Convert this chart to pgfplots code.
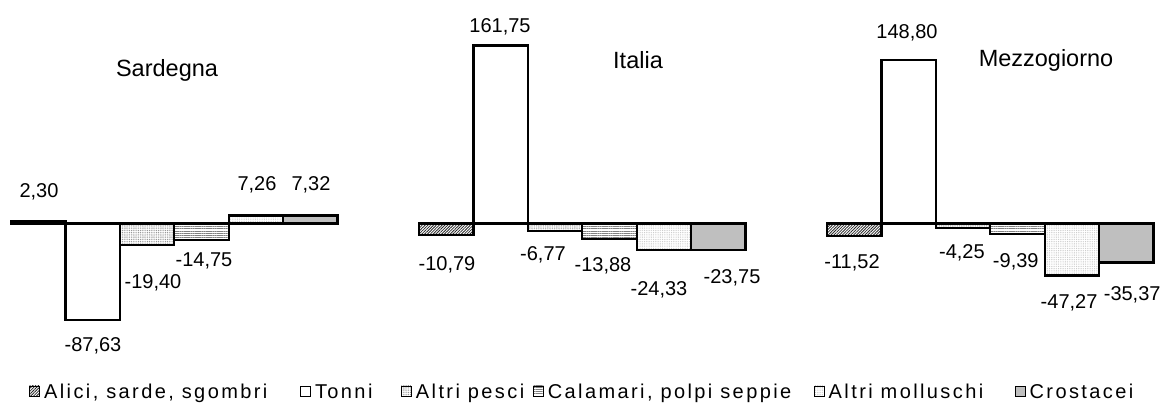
\documentclass[border=0pt]{standalone}
\usepackage{pgfplots}
\pgfplotsset{compat=1.18}
\usetikzlibrary{patterns.meta}
\usepackage{fontspec}
\setmainfont{Liberation Sans}
\newfontfamily\legfont[LetterSpace=12]{Liberation Sans}
\newcommand\lf[2]{\makebox[#1][l]{\legfont\fontsize{20}{22}\selectfont #2}}

\begin{document}
\begin{tikzpicture}
\path[use as bounding box] (0,0) rectangle (1165pt,407pt);
\begin{axis}[
    at={(11pt,51.5pt)}, anchor=south west,
    x=54.4pt, y=1.1pt,
    xmin=0, xmax=21, ymin=-120, ymax=190,
    hide axis, clip=false,
    legend image code/.code={\draw[#1,line width=0.9pt] (0pt,-4pt) rectangle (10pt,6pt);},
    legend columns=6,
    legend style={draw=none, fill=none, at={(0.0158,-0.107)}, anchor=west,
        inner xsep=0pt, inner ysep=0pt,
        nodes={inner sep=0pt},
        /tikz/every even column/.append style={column sep=0pt},
        /tikz/every odd column/.append style={column sep=4pt}},
    bb/.style={ybar, bar width=1, bar shift=0, draw=black, line width=2.2pt},
]
% Alici, sarde, sgombri
\addplot[bb, pattern={Lines[angle=45,distance=2pt,line width=0.8pt]}, pattern color=black!85]
    coordinates {(0.5,2.30) (8,-10.79) (15.5,-11.52)};
% Tonni
\addplot[bb, fill=white]
    coordinates {(1.5,-87.63) (9,161.75) (16.5,148.80)};
% Altri pesci
\addplot[bb, pattern={Dots[distance=1.8pt,radius=0.55pt]}, pattern color=gray!90]
    coordinates {(2.5,-19.40) (10,-6.77) (17.5,-4.25)};
% Calamari, polpi seppie
\addplot[bb, pattern={Lines[angle=0,distance=2.2pt,line width=0.7pt]}, pattern color=gray]
    coordinates {(3.5,-14.75) (11,-13.88) (18.5,-9.39)};
% Altri molluschi
\addplot[bb, pattern={Dots[distance=1.8pt,radius=0.45pt]}, pattern color=gray!55]
    coordinates {(4.5,7.26) (12,-24.33) (19.5,-47.27)};
% Crostacei
\addplot[bb, fill=black!25]
    coordinates {(5.5,7.32) (13,-23.75) (20.5,-35.37)};
\legend{{\lf{256pt}{Alici, sarde, sgombri}},{\lf{86pt}{Tonni}},{\lf{117pt}{Altri pesci}},{\lf{266pt}{Calamari, polpi seppie}},{\lf{186pt}{Altri molluschi}},{\lf{95pt}{Crostacei}}}

\begin{scope}[every node/.style={font=\fontsize{20}{22}\selectfont}]
\node at (axis cs:0.515,28.6) {2,30};
\node at (axis cs:1.507,-111.4) {-87,63};
\node at (axis cs:2.61,-54.1) {-19,40};
\node at (axis cs:3.548,-34.1) {-14,75};
\node at (axis cs:4.522,35) {7,26};
\node at (axis cs:5.515,35) {7,32};
\node at (axis cs:8.989,178.6) {161,75};
\node at (axis cs:8.015,-37.7) {-10,79};
\node at (axis cs:9.779,-28.6) {-6,77};
\node at (axis cs:10.882,-38.6) {-13,88};
\node at (axis cs:11.912,-60.5) {-24,33};
\node at (axis cs:13.254,-49.5) {-23,75};
\node at (axis cs:16.47,173.2) {148,80};
\node at (axis cs:15.46,-35.9) {-11,52};
\node at (axis cs:17.48,-26.8) {-4,25};
\node at (axis cs:18.47,-35) {-9,39};
\node at (axis cs:19.45,-72.3) {-47,27};
\node at (axis cs:20.61,-65) {-35,37};
\end{scope}
\begin{scope}[every node/.style={font=\fontsize{23.5}{26}\selectfont}]
\node at (axis cs:2.868,139.5) {Sardegna};
\node at (axis cs:11.526,148.6) {Italia};
\node at (axis cs:19.026,148.6) {Mezzogiorno};
\end{scope}
\end{axis}
\end{tikzpicture}
\end{document}
